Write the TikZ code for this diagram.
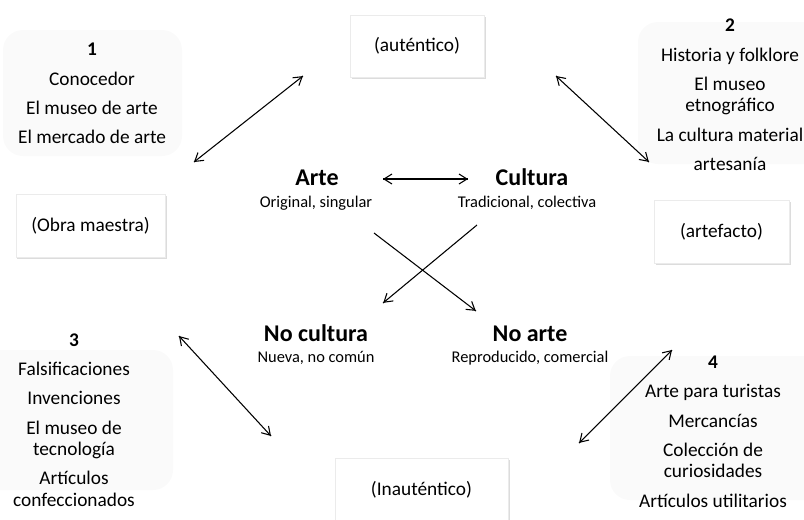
\documentclass[tikz,border=0pt]{standalone}
\usepackage{fontspec}
\setmainfont{Carlito}
\tikzset{->/.style = {decoration={markings, mark=at position 1 with {\arrow{Straight Barb[length=6pt,width=7.5pt]}}}, postaction={decorate}}}
\tikzset{<->/.style = {decoration={markings, mark=at position 0 with {\arrowreversed{Straight Barb[length=6pt,width=7.5pt]}}, mark=at position 1 with {\arrow{Straight Barb[length=6pt,width=7.5pt]}}}, postaction={decorate}}}
\tikzset{caja/.style = {fill=white, draw=black!8, line width=0.3pt, inner sep=0, font=\fontsize{14.5}{16}\selectfont, drop shadow={shadow xshift=1.2pt, shadow yshift=-1.3pt, fill=black!30, opacity=0.45}}}
\tikzset{fondo/.style = {fill=black!2, rounded corners=15pt}}
\tikzset{lista/.style = {align=center, inner sep=0, font=\fontsize{14.5}{16}\selectfont}}
\tikzset{titulo/.style = {anchor=base, inner sep=0, font=\fontsize{18}{20}\selectfont\bfseries}}
\tikzset{subtitulo/.style = {anchor=base, inner sep=0, font=\fontsize{12.3}{14}\selectfont}}
\usetikzlibrary{arrows.meta,shadows,
                 decorations.markings}

\begin{document}
\begin{tikzpicture}[x=0.75pt, y=-0.75pt, line width=0.8pt]
	\useasboundingbox (0,0) rectangle (804,519);
	% fondos redondeados
	\fill[fondo] (3,30) rectangle (182,156);
	\fill[fondo] (638,22) rectangle (830,164);
	\fill[fondo] (-30,350) rectangle (173,490);
	\fill[fondo] (610,356) rectangle (830,500);
	% listas
	\node[lista] (lista1) at (92,93.5) {\textbf{1}\\[6pt]Conocedor\\[6pt]El museo de arte\\[6pt]El mercado de arte};
	\node[lista] (lista2) at (730,95) {\textbf{2}\\[6pt]Historia y folklore\\[6pt]El museo\\etnográfico\\[6pt]La cultura material\\[6pt]artesanía};
	\node[lista] (lista3) at (74,420) {\textbf{3}\\[6pt]Falsificaciones\\[6pt]Invenciones\\[6pt]El museo de\\tecnología\\[6pt]Artículos\\confeccionados};
	\node[lista] (lista4) at (713,431.5) {\textbf{4}\\[6pt]Arte para turistas\\[6pt]Mercancías\\[6pt]Colección de\\curiosidades\\[6pt]Artículos utilitarios};
	% cajas
	\node[caja, minimum width=100.5pt, minimum height=46.5pt] (autentico) at (417,46) {(auténtico)};
	\node[caja, minimum width=112pt, minimum height=47.25pt] (obra) at (90.5,225.5) {(Obra maestra)};
	\node[caja, minimum width=101.25pt, minimum height=47.25pt] (artefacto) at (721.5,231.5) {(artefacto)};
	\node[caja, minimum width=129.75pt, minimum height=48pt] (inautentico) at (421.5,490) {(Inauténtico)};
	% centro
	\node[titulo] (arte) at (317,185.5) {Arte};
	\node[subtitulo] (artesub) at (316,207) {Original, singular};
	\node[titulo] (cultura) at (532,185.5) {Cultura};
	\node[subtitulo] (culturasub) at (527,207) {Tradicional, colectiva};
	\node[titulo] (nocultura) at (316,341) {No cultura};
	\node[subtitulo] (noculturasub) at (316,362) {Nueva, no común};
	\node[titulo] (noarte) at (530,341) {No arte};
	\node[subtitulo] (noartesub) at (530,362) {Reproducido, comercial};
	% flechas
	\coordinate (f1a) at (194,162); \coordinate (f1b) at (303,76);
	\coordinate (f2a) at (556,76);  \coordinate (f2b) at (649,162);
	\coordinate (f3a) at (179,336); \coordinate (f3b) at (271,436);
	\coordinate (f4a) at (672,350); \coordinate (f4b) at (579,443);
	\coordinate (fca) at (383,179); \coordinate (fcb) at (468,179);
	\coordinate (fxa) at (374,233); \coordinate (fxb) at (476,311);
	\coordinate (fya) at (477,225); \coordinate (fyb) at (383,303);
	\draw [<->] (f1a) -- (f1b);
	\draw [<->] (f2a) -- (f2b);
	\draw [<->] (f3a) -- (f3b);
	\draw [<->] (f4a) -- (f4b);
	\draw [<->] (fca) -- (fcb);
	\draw [->] (fxa) -- (fxb);
	\draw [->] (fya) -- (fyb);
\end{tikzpicture}
\end{document}
